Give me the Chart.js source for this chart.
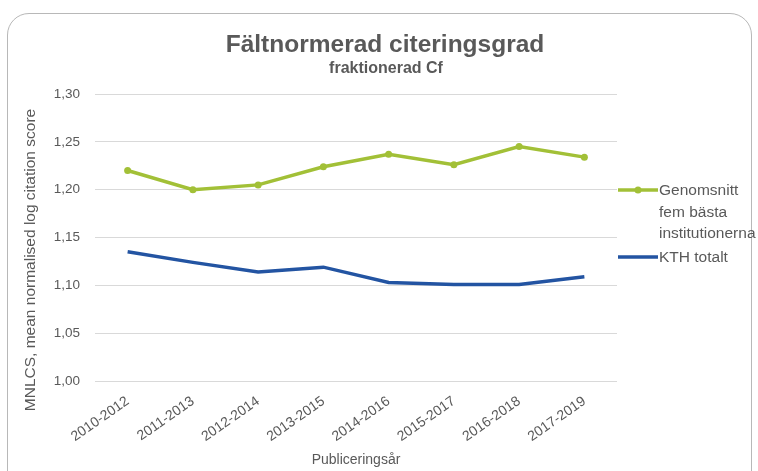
<!DOCTYPE html>
<html>
<head>
<meta charset="utf-8">
<script src="https://cdn.jsdelivr.net/npm/chart.js@4/dist/chart.umd.min.js"></script>
<style>
html,body{margin:0;padding:0;background:#fff;}
#wrap{position:relative;width:758px;height:471px;overflow:hidden;}
#frame{position:absolute;left:7px;top:13px;width:745px;height:480px;border:1px solid #b8b8b8;border-radius:22px;box-sizing:border-box;}
canvas{position:absolute;left:0;top:0;}
</style>
</head>
<body>
<div id="wrap"><div id="frame"></div><canvas id="c" width="758" height="471"></canvas></div>
<script>
const categories = ["2010-2012","2011-2013","2012-2014","2013-2015","2014-2016","2015-2017","2016-2018","2017-2019"];
const topFive = [1.220, 1.200, 1.205, 1.224, 1.237, 1.226, 1.245, 1.234];
const kth = [1.135, 1.124, 1.114, 1.119, 1.103, 1.101, 1.101, 1.109];
const yTicks = [1.00, 1.05, 1.10, 1.15, 1.20, 1.25, 1.30];
const seriesNames = [["Genomsnitt","fem bästa","institutionerna"], ["KTH totalt"]];
const titleText = 'Fältnormerad citeringsgrad';
const subtitleText = 'fraktionerad Cf';
const yTitleText = 'MNLCS, mean normalised log citation score';
const xTitleText = 'Publiceringsår';

const GREEN = '#a2c037';
const BLUE = '#2354a2';
const TEXT = '#595959';
const FONT = '"Liberation Sans", Arial, sans-serif';

const decorPlugin = {
  id: 'decor',
  afterDraw(chart) {
    const ctx = chart.ctx;
    ctx.save();
    // titles
    ctx.fillStyle = TEXT;
    ctx.textAlign = 'center';
    ctx.textBaseline = 'alphabetic';
    ctx.font = 'bold 24.5px ' + FONT;
    ctx.fillText(titleText, 385, 52);
    ctx.font = 'bold 16px ' + FONT;
    ctx.fillText(subtitleText, 386, 73);
    // y axis title
    ctx.save();
    ctx.translate(31, 260);
    ctx.rotate(-Math.PI / 2);
    ctx.textBaseline = 'middle';
    ctx.font = '15.5px ' + FONT;
    ctx.fillText(yTitleText, 0, 0);
    ctx.restore();
    // legend
    const x0 = chart.chartArea.right + 1;
    const items = [
      {color: GREEN, point: true, lines: seriesNames[0], y: 190},
      {color: BLUE, point: false, lines: seriesNames[1], y: 257}
    ];
    ctx.textAlign = 'left';
    ctx.textBaseline = 'middle';
    ctx.font = '15.5px ' + FONT;
    items.forEach(it => {
      ctx.strokeStyle = it.color;
      ctx.lineWidth = 3.5;
      ctx.beginPath();
      ctx.moveTo(x0, it.y);
      ctx.lineTo(x0 + 40, it.y);
      ctx.stroke();
      if (it.point) {
        ctx.fillStyle = it.color;
        ctx.beginPath();
        ctx.arc(x0 + 20, it.y, 3.5, 0, Math.PI * 2);
        ctx.fill();
      }
      ctx.fillStyle = TEXT;
      it.lines.forEach((t, i) => ctx.fillText(t, x0 + 41, it.y + 1 + i * 21.5));
    });
    ctx.restore();
  }
};

new Chart(document.getElementById('c'), {
  type: 'line',
  data: {
    labels: categories,
    datasets: [
      {label: seriesNames[0].join(' '), data: topFive, borderColor: GREEN, backgroundColor: GREEN,
       borderWidth: 3.5, pointRadius: 3.5, pointBorderWidth: 0, pointHoverRadius: 3.5, tension: 0},
      {label: seriesNames[1].join(' '), data: kth, borderColor: BLUE, backgroundColor: BLUE,
       borderWidth: 3.5, pointRadius: 0, tension: 0}
    ]
  },
  options: {
    responsive: false,
    animation: false,
    devicePixelRatio: 1,
    layout: {padding: {left: 0, right: 141, top: 94, bottom: 2}},
    plugins: {
      legend: {display: false},
      tooltip: {enabled: false},
      title: {display: false},
      subtitle: {display: false}
    },
    scales: {
      x: {
        offset: true,
        grid: {display: false},
        border: {display: false},
        afterFit(s) { s.height = 88; },
        ticks: {color: TEXT, font: {family: FONT, size: 14}, maxRotation: 35, minRotation: 35, padding: 4},
        title: {display: true, text: xTitleText, color: TEXT, font: {family: FONT, size: 14}, padding: {top: 0, bottom: 0}}
      },
      y: {
        min: 1.0, max: 1.3,
        afterBuildTicks(s) { s.ticks = yTicks.map(v => ({value: v})); },
        afterFit(s) { s.width = 95; },
        grid: {color: '#d9d9d9', lineWidth: 1, drawTicks: false},
        border: {display: false},
        ticks: {color: TEXT, font: {family: FONT, size: 13.5}, padding: 15,
          callback: v => v.toFixed(2).replace('.', ',')},
        title: {display: false}
      }
    }
  },
  plugins: [decorPlugin]
});
</script>
</body>
</html>
